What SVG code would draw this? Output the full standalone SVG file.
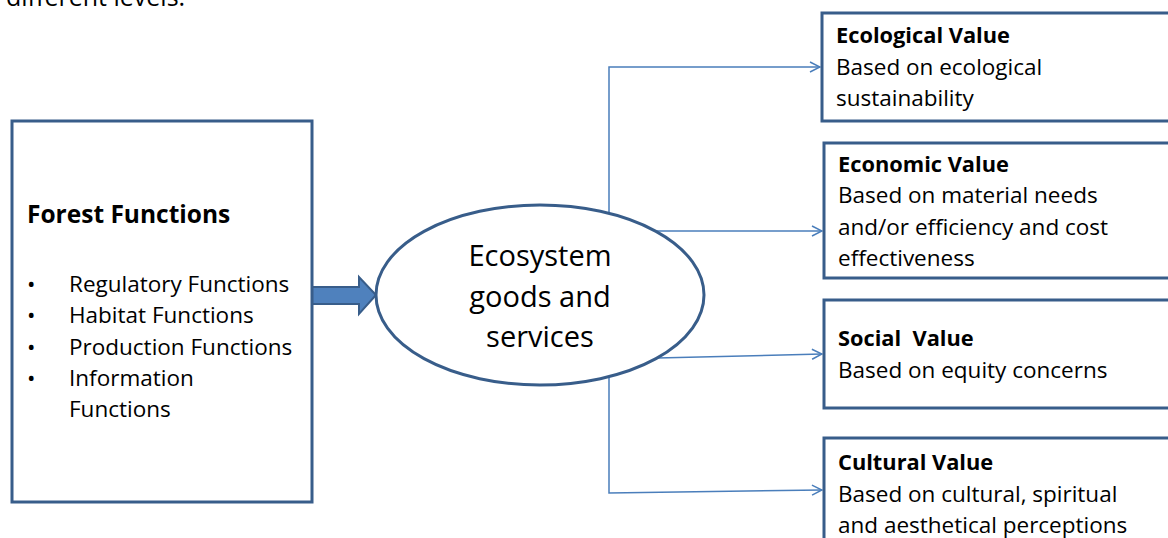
<svg xmlns="http://www.w3.org/2000/svg" width="1168" height="538" viewBox="0 0 1168 538">
<style>
.box{fill:#fff;stroke:#385D8A;stroke-width:3}
.t{font-family:"Open Sans","Liberation Sans",sans-serif;fill:#000}
.h{font-weight:bold;font-size:21.8px}
.b{font-size:22.5px}
.con{fill:none;stroke:#4A7EBB;stroke-width:1.5}
</style>
<defs>
<marker id="ah" viewBox="0 0 12 12" refX="11" refY="6" markerWidth="12" markerHeight="12" markerUnits="userSpaceOnUse" orient="auto">
<path d="M1,1 L11,6 L1,11" fill="none" stroke="#4A7EBB" stroke-width="1.5"/>
</marker>
</defs>
<rect width="1168" height="538" fill="#fff"/>
<text class="t" x="6" y="6" font-size="25">different levels.</text>

<g id="connectors">
<path class="con" d="M609,213 L609,67 L820,67" marker-end="url(#ah)"/>
<path class="con" d="M657,231 L822,231" marker-end="url(#ah)"/>
<path class="con" d="M657,358 L822,354" marker-end="url(#ah)"/>
<path class="con" d="M609,377 L609,493 L822,490" marker-end="url(#ah)"/>
<g id="block-arrow">
<path d="M312,287 L359,287 L359,277 L376,295 L359,314 L359,304 L312,304 Z" fill="#4F81BD" stroke="#385D8A" stroke-width="2"/>
</g>
</g>

<g id="forest-functions">
<rect class="box" x="12" y="121" width="300" height="381"/>
<text class="t" x="27" y="223" font-size="24.5" font-weight="bold">Forest Functions</text>
<g class="t b">
<text x="27" y="292">•</text><text x="69" y="292">Regulatory Functions</text>
<text x="27" y="323">•</text><text x="69" y="323">Habitat Functions</text>
<text x="27" y="355">•</text><text x="69" y="355">Production Functions</text>
<text x="27" y="386">•</text><text x="69" y="386">Information</text>
<text x="69" y="417">Functions</text>
</g>
</g>

<g id="ecosystem">
<ellipse cx="540" cy="295" rx="164" ry="90" fill="#fff" stroke="#385D8A" stroke-width="3"/>
<g class="t" font-size="29" text-anchor="middle">
<text x="540" y="266">Ecosystem</text>
<text x="540" y="307">goods and</text>
<text x="540" y="347">services</text>
</g>
</g>

<g id="ecological">
<rect class="box" x="822" y="13" width="360" height="108"/>
<text class="t h" x="836" y="43">Ecological Value</text>
<text class="t b" x="836" y="75">Based on ecological</text>
<text class="t b" x="836" y="106">sustainability</text>
</g>

<g id="economic">
<rect class="box" x="824" y="143" width="360" height="135"/>
<text class="t h" x="838" y="172">Economic Value</text>
<text class="t b" x="838" y="203">Based on material needs</text>
<text class="t b" x="838" y="235">and/or efficiency and cost</text>
<text class="t b" x="838" y="266">effectiveness</text>
</g>

<g id="social">
<rect class="box" x="824" y="300" width="360" height="108"/>
<text class="t h" x="838" y="346" xml:space="preserve">Social  Value</text>
<text class="t b" x="838" y="378">Based on equity concerns</text>
</g>

<g id="cultural">
<rect class="box" x="824" y="438" width="360" height="130"/>
<text class="t h" x="838" y="470">Cultural Value</text>
<text class="t b" x="838" y="502">Based on cultural, spiritual</text>
<text class="t b" x="838" y="533">and aesthetical perceptions</text>
</g>
</svg>
